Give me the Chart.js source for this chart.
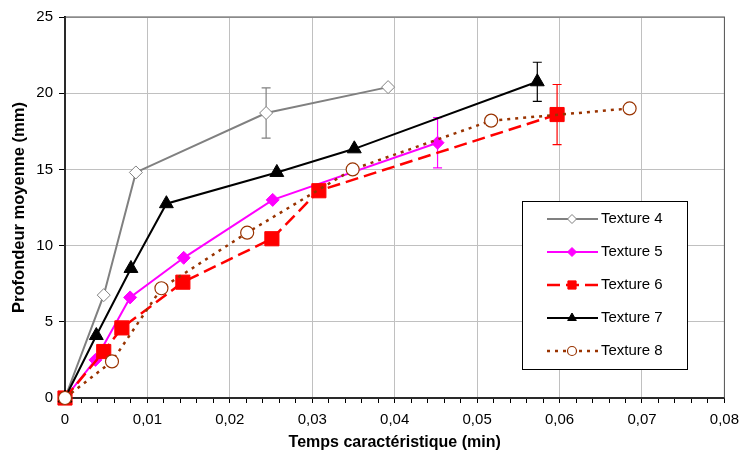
<!DOCTYPE html>
<html>
<head>
<meta charset="utf-8">
<script src="https://cdn.jsdelivr.net/npm/chart.js@4.4.0/dist/chart.umd.min.js"></script>
<style>
  html, body { margin: 0; padding: 0; background: #fff; }
  #wrap { width: 747px; height: 458px; }
</style>
</head>
<body>
<div id="wrap"><canvas id="grafica" width="747" height="458"></canvas></div>
<script>
// Valeurs
const t4x = [0, 0.0047, 0.0086, 0.0244, 0.0392];
const t4y = [0, 6.75, 14.8, 18.7, 20.4];
const t4err = [null, null, null, 1.65, null];

const t5x = [0, 0.0037, 0.0079, 0.0144, 0.0252, 0.0452];
const t5y = [0, 2.5, 6.6, 9.2, 13.0, 16.75];
const t5err = [null, null, null, null, null, 1.65];

const t6x = [0, 0.0047, 0.0069, 0.0143, 0.0251, 0.0308, 0.0597];
const t6y = [0, 3.05, 4.6, 7.6, 10.45, 13.6, 18.6];
const t6err = [null, null, null, null, null, null, 1.97];

const t7x = [0, 0.0038, 0.0080, 0.0123, 0.0257, 0.0351, 0.0573];
const t7y = [0, 4.1, 8.5, 12.75, 14.8, 16.35, 20.75];
const t7err = [null, null, null, null, null, null, 1.28];

const t8x = [0, 0.0057, 0.0117, 0.0221, 0.0349, 0.0517, 0.0685];
const t8y = [0, 2.4, 7.2, 10.85, 15.0, 18.2, 19.0];

const labels = ['Texture 4', 'Texture 5', 'Texture 6', 'Texture 7', 'Texture 8'];

const police = "'Liberation Sans', Arial, sans-serif";

function points(xs, ys) {
    return xs.map((x, i) => ({ x: x, y: ys[i] }));
}

const datasets = [
    {
        label: labels[0], data: points(t4x, t4y), errs: t4err,
        borderColor: '#808080', backgroundColor: '#ffffff', borderWidth: 2,
        pointStyle: 'rectRot', pointRadius: 6.5, pointBorderWidth: 1, legRadius: 4.5, order: 4
    },
    {
        label: labels[1], data: points(t5x, t5y), errs: t5err,
        borderColor: '#ff00ff', backgroundColor: '#ff00ff', borderWidth: 2,
        pointStyle: 'rectRot', pointRadius: 6.5, pointBorderWidth: 1, legRadius: 4.5, order: 3
    },
    {
        label: labels[2], data: points(t6x, t6y), errs: t6err,
        borderColor: '#ff0000', backgroundColor: '#ff0000', borderWidth: 2.5,
        borderDash: [13, 6], pointStyle: 'rect', pointRadius: 10, pointBorderWidth: 1, legRadius: 5.8, order: 2
    },
    {
        label: labels[3], data: points(t7x, t7y), errs: t7err,
        borderColor: '#000000', backgroundColor: '#000000', borderWidth: 2,
        pointStyle: 'triangle', pointRadius: 8, pointBorderWidth: 1, legRadius: 5, order: 1
    },
    {
        label: labels[4], data: points(t8x, t8y), errs: [],
        borderColor: '#993300', backgroundColor: '#ffffff', borderWidth: 2.5,
        borderDash: [3, 5], pointStyle: 'circle', pointRadius: 6.5, pointBorderWidth: 1.2, legRadius: 4.5, order: 0
    }
];
datasets.forEach(d => {
    d.showLine = true;
    d.clip = false;
    d.pointBorderColor = d.borderColor;
    d.pointBackgroundColor = d.backgroundColor;
});

// barres d'erreur verticales
const barresErreur = {
    id: 'barresErreur',
    beforeDatasetsDraw(chart) {
        const ctx = chart.ctx;
        const xs = chart.scales.x, ys = chart.scales.y;
        ctx.save();
        chart.data.datasets.forEach(d => {
            d.data.forEach((p, i) => {
                const e = d.errs[i];
                if (e == null) return;
                const px = xs.getPixelForValue(p.x);
                const top = ys.getPixelForValue(p.y + e);
                const bot = ys.getPixelForValue(p.y - e);
                ctx.strokeStyle = d.borderColor;
                ctx.lineWidth = 1.2;
                ctx.setLineDash([]);
                ctx.beginPath();
                ctx.moveTo(px, top); ctx.lineTo(px, bot);
                ctx.moveTo(px - 4.5, top); ctx.lineTo(px + 4.5, top);
                ctx.moveTo(px - 4.5, bot); ctx.lineTo(px + 4.5, bot);
                ctx.stroke();
            });
        });
        ctx.restore();
    }
};

// cadre de la zone de tracé
const cadre = {
    id: 'cadre',
    beforeDatasetsDraw(chart) {
        const a = chart.chartArea, ctx = chart.ctx;
        ctx.save();
        ctx.strokeStyle = '#555555';
        ctx.lineWidth = 1;
        ctx.strokeRect(a.left, a.top, a.right - a.left, a.bottom - a.top);
        ctx.restore();
    }
};

// légende dans un encadré
const legende = {
    id: 'legende',
    afterDraw(chart) {
        const ctx = chart.ctx;
        const bx = 522, by = 201, bw = 165, bh = 168;
        ctx.save();
        ctx.fillStyle = '#ffffff';
        ctx.fillRect(bx, by, bw, bh);
        ctx.strokeStyle = '#000000';
        ctx.lineWidth = 1;
        ctx.strokeRect(bx + 0.5, by + 0.5, bw, bh);
        chart.data.datasets.forEach((d, i) => {
            const yy = by + 18 + i * 33;
            ctx.strokeStyle = d.borderColor;
            ctx.lineWidth = d.borderWidth;
            ctx.setLineDash(d.borderDash || []);
            ctx.beginPath();
            ctx.moveTo(547, yy); ctx.lineTo(598, yy);
            ctx.stroke();
            ctx.setLineDash([]);
            ctx.fillStyle = d.backgroundColor;
            ctx.lineWidth = d.pointBorderWidth;
            Chart.helpers.drawPoint(ctx, {
                pointStyle: d.pointStyle, rotation: 0,
                radius: d.legRadius, borderWidth: d.pointBorderWidth
            }, 572, yy);
            ctx.fillStyle = '#000000';
            ctx.font = '15px ' + police;
            ctx.textBaseline = 'middle';
            ctx.fillText(d.label, 601, yy);
        });
        ctx.restore();
    }
};

function estMajeur(v) {
    return Math.abs(v * 100 - Math.round(v * 100)) < 1e-6;
}

new Chart(document.getElementById('grafica'), {
    type: 'scatter',
    data: { datasets: datasets },
    options: {
        responsive: false,
        animation: false,
        layout: { padding: { top: 17, right: 17, left: 0, bottom: 0 } },
        plugins: {
            legend: { display: false },
            tooltip: { enabled: false }
        },
        scales: {
            x: {
                type: 'linear', min: 0, max: 0.08,
                afterFit: s => { s.height = 60; },
                ticks: {
                    stepSize: 0.002, autoSkip: false, maxRotation: 0,
                    padding: 8, color: '#000',
                    font: { family: police, size: 15 },
                    callback: v => estMajeur(v) ? String(Math.round(v * 100) / 100).replace('.', ',') : ''
                },
                grid: {
                    color: c => (c.tick && estMajeur(c.tick.value)) ? '#c0c0c0' : 'rgba(0,0,0,0)',
                    tickColor: '#000', tickLength: 5, lineWidth: 1
                },
                border: { color: '#000', width: 2 },
                title: {
                    display: true, text: 'Temps caractéristique (min)', color: '#000',
                    font: { family: police, size: 16, weight: 'bold' },
                    padding: { top: 0, bottom: 6 }
                }
            },
            y: {
                min: 0, max: 25,
                afterFit: s => { s.width = 65; },
                ticks: {
                    stepSize: 5, padding: 6, color: '#000',
                    font: { family: police, size: 15 }
                },
                grid: { color: '#c0c0c0', tickColor: '#000', tickLength: 6, lineWidth: 1 },
                border: { color: '#000', width: 2 },
                title: {
                    display: true, text: 'Profondeur moyenne (mm)', color: '#000',
                    font: { family: police, size: 16.5, weight: 'bold' },
                    padding: { top: 10, bottom: 0 }
                }
            }
        }
    },
    plugins: [cadre, barresErreur, legende]
});
</script>
</body>
</html>
